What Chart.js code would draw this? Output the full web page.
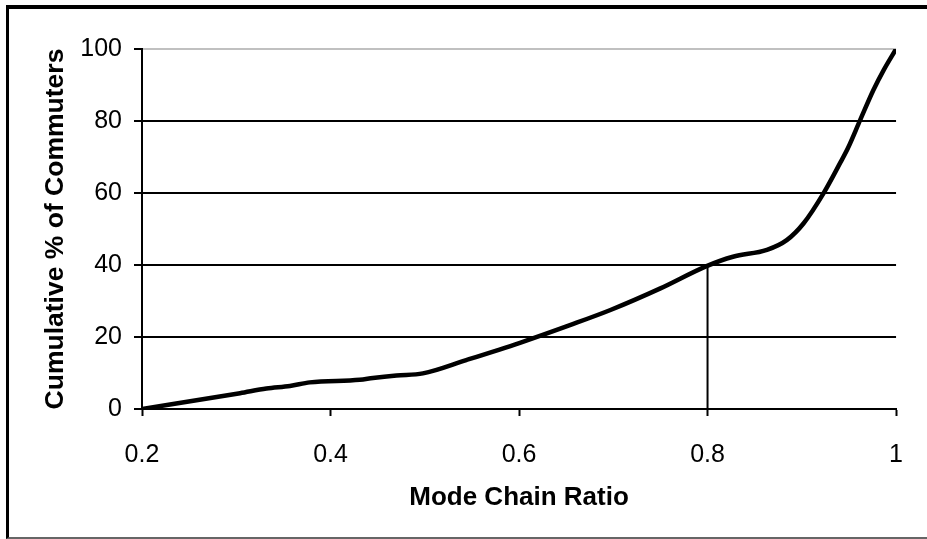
<!DOCTYPE html>
<html>
<head>
<meta charset="utf-8">
<script src="https://cdn.jsdelivr.net/npm/chart.js@4/dist/chart.umd.min.js"></script>
<style>
  html, body { margin: 0; padding: 0; background: #fff; }
  #wrap { position: relative; width: 927px; height: 539px; overflow: hidden; background: #fff; }
  #frame { position: absolute; left: 6px; top: 5px; width: 960px; height: 528px;
           border-top: 4px solid #000; border-left: 3px solid #000; border-bottom: 2px solid #666;
           pointer-events: none; }
  canvas { position: absolute; left: 0; top: 0; }
</style>
</head>
<body>
<div id="wrap">
  <canvas id="c" width="927" height="539"></canvas>
  <div id="frame"></div>
</div>
<script>
// Mode chain ratio (x) vs cumulative % of commuters (y)
const ratio = [0.2, 0.304, 0.332, 0.357, 0.378, 0.431, 0.445, 0.47, 0.498, 0.544, 0.601, 0.654, 0.697, 0.75, 0.799, 0.827, 0.863, 0.884, 0.902, 0.923, 0.941, 0.949, 0.962, 0.976, 0.987, 1.0];
const cumulative = [0, 4.4, 5.7, 6.4, 7.4, 8.1, 8.6, 9.3, 9.9, 13.6, 18.4, 23.3, 27.5, 33.5, 39.7, 42.3, 44.2, 46.9, 51.6, 59.9, 68.5, 72.5, 80.3, 88.6, 94.2, 100];
// reference drop line at ratio 0.8
const markerX = [0.8, 0.8];
const markerY = [0, 40];
const xTickValues = [0.2, 0.4, 0.6, 0.8, 1];
const yTickValues = [0, 20, 40, 60, 80, 100];
const xTitle = 'Mode Chain Ratio';
const yTitle = 'Cumulative % of Commuters';

const curve = ratio.map((x, i) => ({ x: x, y: cumulative[i] }));
const marker = markerX.map((x, i) => ({ x: x, y: markerY[i] }));

const FONT = 'Liberation Sans, Arial, sans-serif';

new Chart(document.getElementById('c'), {
  type: 'line',
  data: {
    datasets: [
      { data: marker, borderColor: '#000', borderWidth: 2, pointRadius: 0, tension: 0, fill: false },
      { data: curve, borderColor: '#000', borderWidth: 4.5, pointRadius: 0, cubicInterpolationMode: 'monotone', fill: false,
        borderCapStyle: 'butt', borderJoinStyle: 'round' }
    ]
  },
  options: {
    responsive: false,
    animation: false,
    events: [],
    layout: { padding: { left: 10, top: 49, right: 27, bottom: 0 } },
    plugins: { legend: { display: false }, tooltip: { enabled: false } },
    scales: {
      x: {
        type: 'linear',
        min: 0.2, max: 1,
        afterBuildTicks: (s) => { s.ticks = xTickValues.map(v => ({ value: v })); },
        afterFit: (s) => { s.height = 130; },
        grid: { drawOnChartArea: false, tickLength: 7, tickColor: '#000', tickWidth: 2 },
        border: { color: '#000', width: 2 },
        ticks: { color: '#000', padding: 24, maxRotation: 0, autoSkip: false,
                 font: { family: FONT, size: 25 },
                 callback: (v) => String(Math.round(v * 10) / 10) },
        title: { display: true, text: xTitle, color: '#000', padding: { top: 0, bottom: 26 },
                 font: { family: FONT, size: 26, weight: 'bold' } }
      },
      y: {
        type: 'linear',
        min: 0, max: 100,
        afterBuildTicks: (s) => { s.ticks = yTickValues.map(v => ({ value: v })); },
        afterFit: (s) => { s.width = 132; },
        grid: { tickLength: 8, tickColor: '#000', lineWidth: 2,
                color: (ctx) => (ctx.tick && ctx.tick.value === 100 ? '#c0c0c0' : '#000') },
        border: { color: '#000', width: 2 },
        ticks: { color: '#000', padding: 12, autoSkip: false,
                 font: { family: FONT, size: 25 } },
        title: { display: true, text: yTitle, color: '#000', padding: { top: 30, bottom: 0 },
                 font: { family: FONT, size: 26.5, weight: 'bold' } }
      }
    }
  }
});
</script>
</body>
</html>
